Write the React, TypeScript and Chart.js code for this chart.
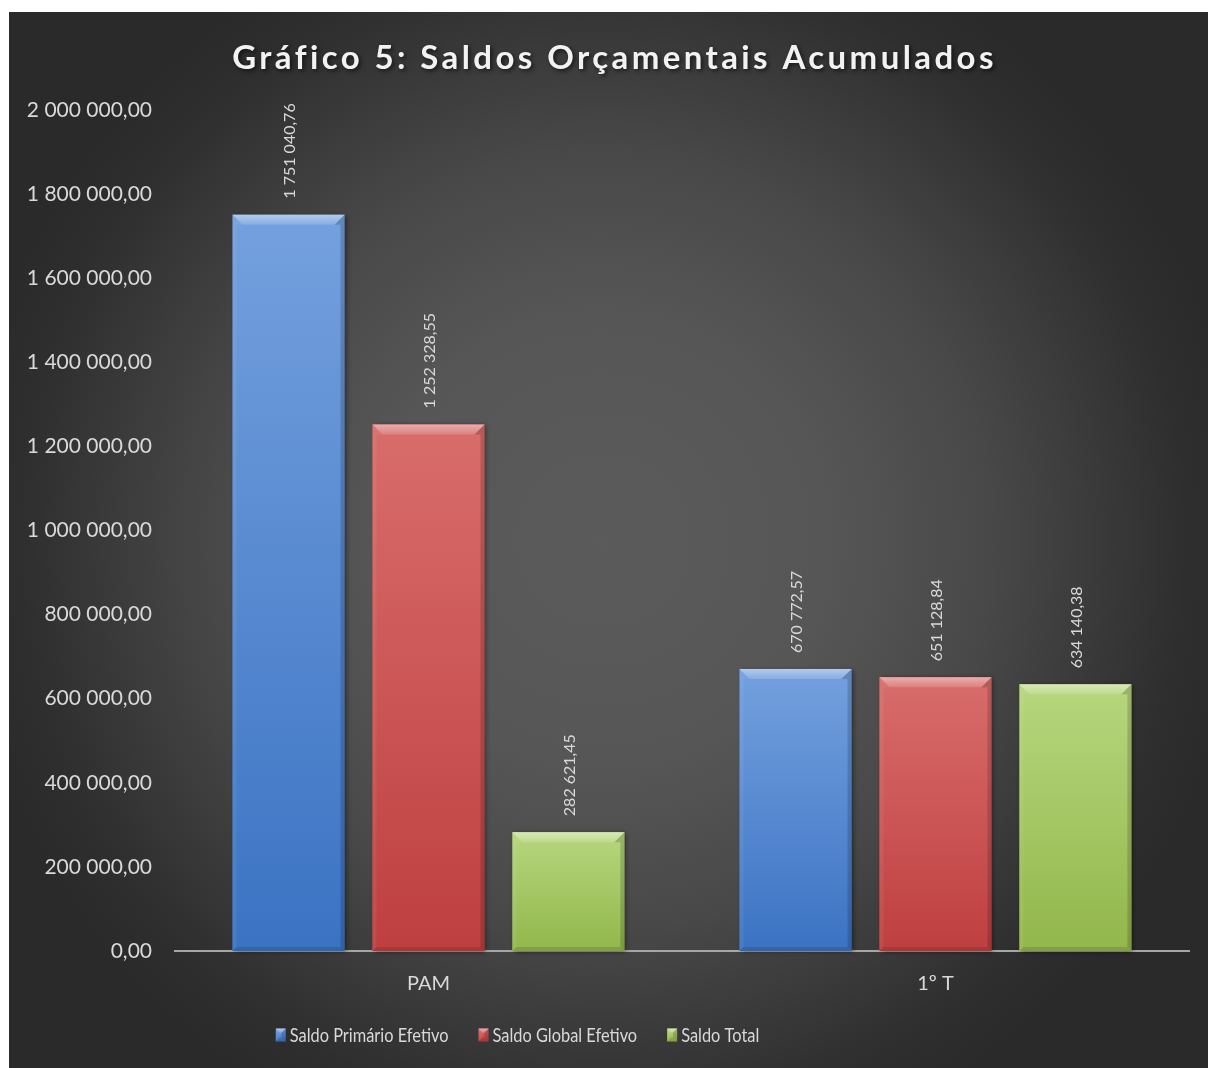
import { useEffect, useRef } from "react";
import { Chart, registerables } from "chart.js";

Chart.register(...registerables);

const chartTitle = "Gráfico 5: Saldos Orçamentais Acumulados";
const categories = ["PAM", "1º T"];
const seriesNames = ["Saldo Primário Efetivo", "Saldo Global Efetivo", "Saldo Total"];
const primarioValues = [1751040.76, 670772.57];
const globalValues = [1252328.55, 651128.84];
const totalValues = [282621.45, 634140.38];
const yMin = 0;
const yMax = 2000000;
const yStep = 200000;

const palette = [
  { top: "#74a0de", mid: "#5588d0", bottom: "#3b73c3" },
  { top: "#d86d6b", mid: "#cc5552", bottom: "#bf3f40" },
  { top: "#b7d67e", mid: "#a5c763", bottom: "#92b74b" },
];

const FONT = 'Lato, "Open Sans", "DejaVu Sans", sans-serif';
const TEXT = "#d9d9d9";

function fmt(v: number): string {
  const [i, d] = Math.abs(v).toFixed(2).split(".");
  return (v < 0 ? "-" : "") + i.replace(/\B(?=(\d{3})+(?!\d))/g, " ") + "," + d;
}

const bgPlugin = {
  id: "bgPlugin",
  beforeDraw(chart: any) {
    const { ctx, width, height } = chart;
    const cx = width / 2 - 10;
    const cy = height / 2;
    const g = ctx.createRadialGradient(cx, cy, 0, cx, cy, 650);
    g.addColorStop(0, "#5b5b5b");
    g.addColorStop(0.35, "#565656");
    g.addColorStop(0.6, "#484848");
    g.addColorStop(0.9, "#2e2e2e");
    g.addColorStop(1, "#2a2a2a");
    ctx.save();
    ctx.fillStyle = g;
    ctx.fillRect(0, 0, width, height);
    ctx.restore();
  },
};

function bevelRect(ctx: CanvasRenderingContext2D, x0: number, y0: number, w: number, h: number, p: any, b: number, shadow: boolean) {
  const x1 = x0 + w;
  const y1 = y0 + h;
  ctx.save();
  if (shadow) {
    ctx.shadowColor = "rgba(0,0,0,0.45)";
    ctx.shadowBlur = 5;
    ctx.shadowOffsetX = 2;
    ctx.shadowOffsetY = 1;
  }
  const g = ctx.createLinearGradient(0, y0, 0, y1);
  g.addColorStop(0, p.top);
  g.addColorStop(1, p.bottom);
  ctx.fillStyle = g;
  ctx.fillRect(x0, y0, w, h);
  ctx.restore();
  const bb = Math.min(b, h / 2, w / 2);
  ctx.save();
  // top bevel
  const tg = ctx.createLinearGradient(0, y0, 0, y0 + bb);
  tg.addColorStop(0, "rgba(255,255,255,0.45)");
  tg.addColorStop(1, "rgba(255,255,255,0.14)");
  ctx.fillStyle = tg;
  ctx.beginPath();
  ctx.moveTo(x0, y0);
  ctx.lineTo(x1, y0);
  ctx.lineTo(x1 - bb, y0 + bb);
  ctx.lineTo(x0 + bb, y0 + bb);
  ctx.closePath();
  ctx.fill();
  // left bevel
  const sb = Math.min(bb, 4);
  ctx.fillStyle = "rgba(255,255,255,0.06)";
  ctx.beginPath();
  ctx.moveTo(x0, y0);
  ctx.lineTo(x0 + bb, y0 + bb);
  ctx.lineTo(x0 + sb, y0 + bb);
  ctx.lineTo(x0 + sb, y1 - sb);
  ctx.lineTo(x0, y1);
  ctx.closePath();
  ctx.fill();
  // right bevel
  ctx.fillStyle = "rgba(0,0,0,0.16)";
  ctx.beginPath();
  ctx.moveTo(x1, y0);
  ctx.lineTo(x1 - bb, y0 + bb);
  ctx.lineTo(x1 - sb, y0 + bb);
  ctx.lineTo(x1 - sb, y1 - sb);
  ctx.lineTo(x1, y1);
  ctx.closePath();
  ctx.fill();
  // bottom bevel
  ctx.fillStyle = "rgba(0,0,0,0.12)";
  ctx.beginPath();
  ctx.moveTo(x0, y1);
  ctx.lineTo(x1, y1);
  ctx.lineTo(x1 - sb, y1 - sb);
  ctx.lineTo(x0 + sb, y1 - sb);
  ctx.closePath();
  ctx.fill();
  ctx.restore();
}

const barStylePlugin = {
  id: "barStylePlugin",
  afterDatasetsDraw(chart: any) {
    const { ctx } = chart;
    chart.data.datasets.forEach((ds: any, di: number) => {
      const meta = chart.getDatasetMeta(di);
      meta.data.forEach((el: any, i: number) => {
        const { x, y, base, width } = el.getProps(["x", "y", "base", "width"], true);
        const top = Math.min(y, base);
        const h = Math.abs(base - y);
        bevelRect(ctx, x - width / 2, top, width, h, palette[di], 10, true);
        // value label
        ctx.save();
        ctx.translate(x, top - 16);
        ctx.rotate(-Math.PI / 2);
        ctx.font = `16px ${FONT}`;
        ctx.fillStyle = TEXT;
        ctx.textAlign = "left";
        ctx.textBaseline = "middle";
        ctx.fillText(fmt(ds.data[i]), 0, 1);
        ctx.restore();
      });
    });
  },
};

const titleLegendPlugin = {
  id: "titleLegendPlugin",
  afterDraw(chart: any) {
    const { ctx, width } = chart;
    // title
    ctx.save();
    ctx.font = `bold 33px ${FONT}`;
    (ctx as any).letterSpacing = "3.4px";
    ctx.fillStyle = "#f2f2f2";
    ctx.textAlign = "center";
    ctx.textBaseline = "middle";
    ctx.shadowColor = "rgba(0,0,0,0.6)";
    ctx.shadowBlur = 4;
    ctx.shadowOffsetX = 2;
    ctx.shadowOffsetY = 2;
    ctx.fillText(chartTitle, width / 2 + 2, 46);
    ctx.restore();

    // legend
    ctx.save();
    const legFont = `19.5px ${FONT}`;
    const sx = 0.84;
    ctx.font = legFont;
    const boxW = 10;
    const boxH = 13;
    const gap = 4;
    const itemGap = 30;
    const labels = chart.data.datasets.map((d: any) => d.label);
    const textW = labels.map((t: string) => ctx.measureText(t).width * sx);
    const widths = textW.map((w: number) => boxW + gap + w);
    const total = widths.reduce((a: number, b: number) => a + b, 0) + itemGap * (labels.length - 1);
    let x = 508.5 - total / 2;
    const cy = 1023;
    labels.forEach((t: string, i: number) => {
      bevelRect(ctx, x, cy - boxH / 2, boxW, boxH, palette[i], 5, false);
      ctx.save();
      ctx.translate(x + boxW + gap, cy + 1);
      ctx.scale(sx, 1);
      ctx.fillStyle = TEXT;
      ctx.textAlign = "left";
      ctx.textBaseline = "middle";
      ctx.font = legFont;
      ctx.fillText(t, 0, 0);
      ctx.restore();
      x += widths[i] + itemGap;
    });
    ctx.restore();
  },
};

export default function App() {
  const ref = useRef<HTMLCanvasElement | null>(null);

  useEffect(() => {
    if (!ref.current) return;
    const seriesValues = [primarioValues, globalValues, totalValues];
    const chart = new Chart(ref.current, {
      type: "bar",
      data: {
        labels: categories,
        datasets: seriesNames.map((name, i) => ({
          label: name,
          data: seriesValues[i],
          backgroundColor: palette[i].mid,
          borderWidth: 0,
          categoryPercentage: 0.828,
          barPercentage: 0.8,
        })),
      },
      options: {
        responsive: false,
        animation: false,
        events: [],
        layout: { padding: { left: 0, right: 27, top: 98, bottom: 67 } },
        plugins: {
          legend: { display: false },
          title: { display: false },
          tooltip: { enabled: false },
        },
        scales: {
          x: {
            grid: { display: false, drawTicks: false },
            border: { display: true, color: "#a6a6a6", width: 2 },
            ticks: { color: TEXT, font: { family: FONT, size: 20 }, padding: 21 },
            afterFit(scale: any) {
              scale.height = 50;
            },
          },
          y: {
            min: yMin,
            max: yMax,
            grid: { display: false, drawTicks: false },
            border: { display: false },
            ticks: {
              stepSize: yStep,
              color: TEXT,
              font: { family: FONT, size: 21 },
              padding: 23,
              callback: (v: any) => fmt(Number(v)),
            },
            afterFit(scale: any) {
              scale.width = 166;
            },
          },
        },
      },
      plugins: [bgPlugin, barStylePlugin, titleLegendPlugin],
    });
    return () => chart.destroy();
  }, []);

  return (
    <div style={{ position: "absolute", left: 9, top: 12, width: 1199, height: 1056, overflow: "hidden" }}>
      <canvas ref={ref} width={1207} height={1056} style={{ display: "block" }} />
    </div>
  );
}
